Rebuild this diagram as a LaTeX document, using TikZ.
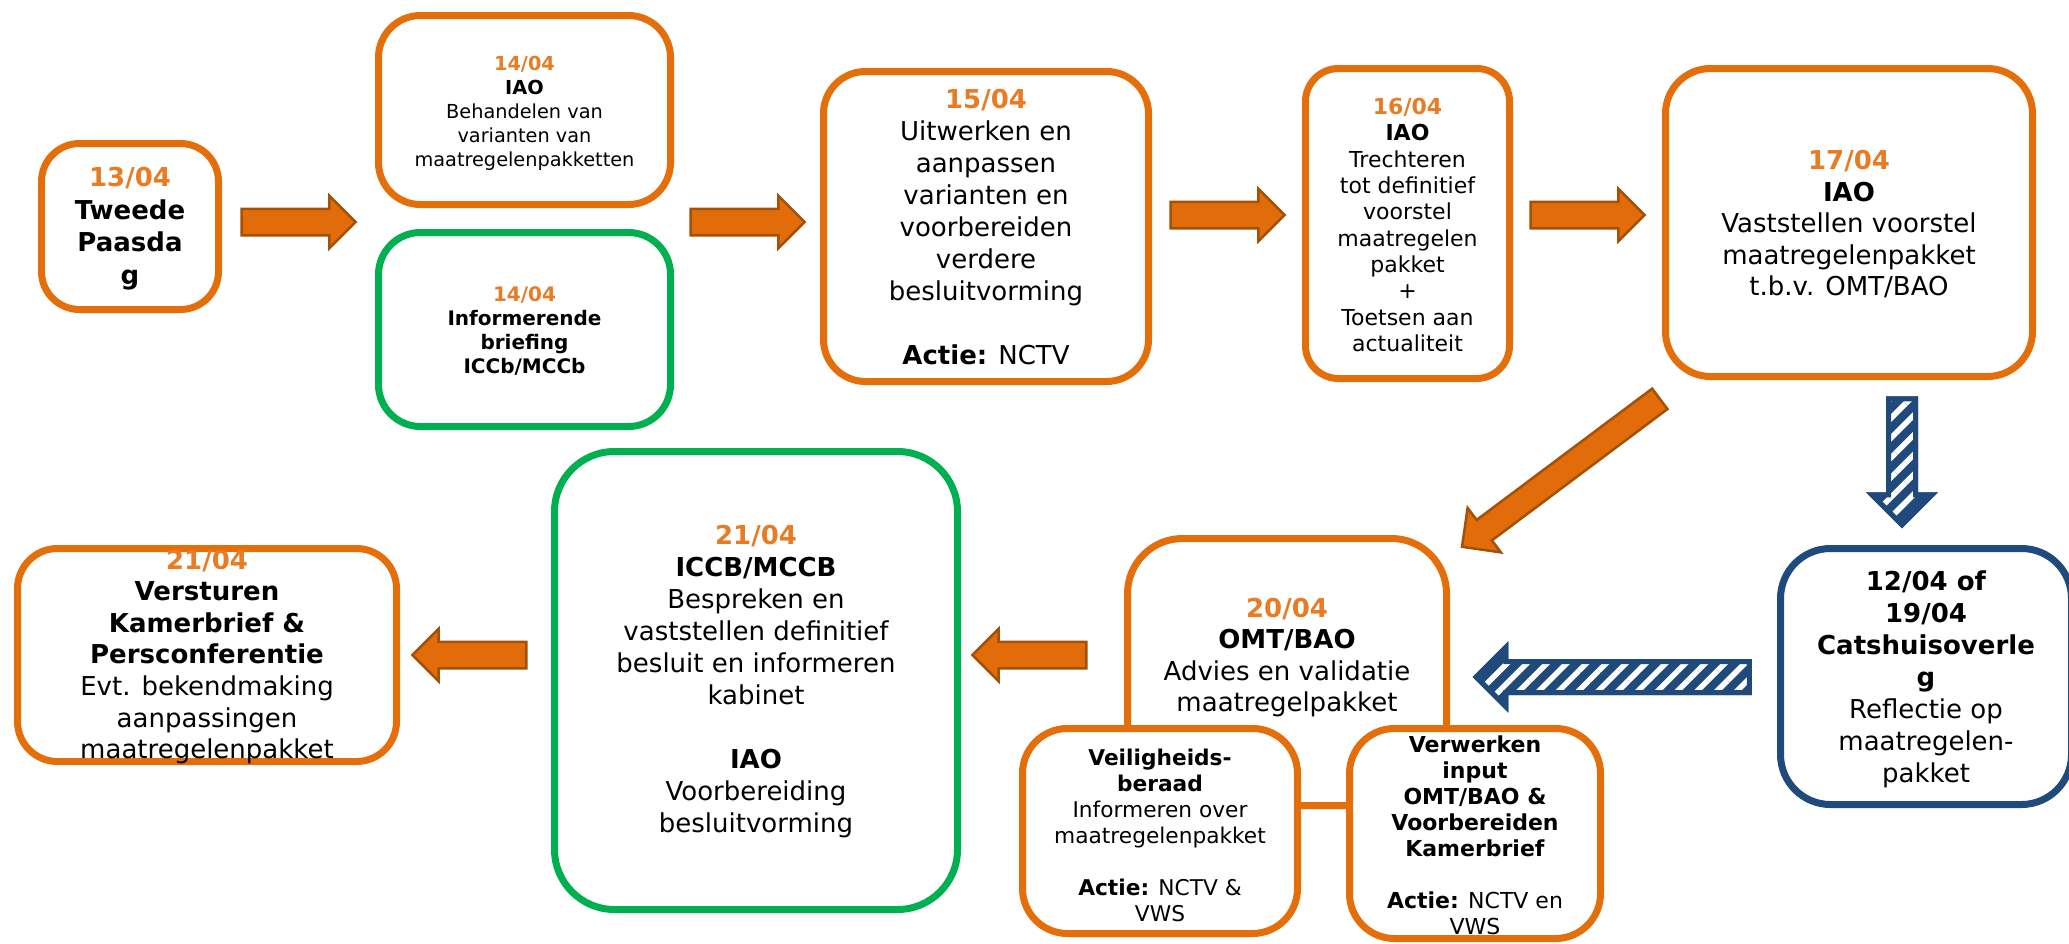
\documentclass[tikz,border=0pt]{standalone}
\usepackage{fontspec}
\setmainfont{DejaVu Sans}
\usetikzlibrary{shapes.arrows,patterns.meta}
\definecolor{boxorange}{RGB}{227,110,10}
\definecolor{dateorange}{RGB}{232,124,36}
\definecolor{arroworange}{RGB}{226,108,10}
\definecolor{arrowdark}{RGB}{163,80,8}
\definecolor{boxgreen}{RGB}{0,176,80}
\definecolor{boxblue}{RGB}{33,74,124}
\newcommand{\dt}[1]{\textcolor{dateorange}{\textbf{#1}}}
\begin{document}
\begin{tikzpicture}[x=1pt,y=-1pt,
  frame/.style={draw=boxorange, line width=7pt, fill=white, inner sep=0pt, outer sep=0pt},
  greenframe/.style={frame, draw=boxgreen},
  blueframe/.style={frame, draw=boxblue},
  txt/.style={align=center, inner sep=0pt, text=black},
  oarrow/.style={single arrow, draw=arrowdark, fill=arroworange, line width=2.5pt, inner xsep=0pt,
     inner ysep=12pt, single arrow head extend=13pt, minimum height=114pt},
  barrow/.style={single arrow, draw=boxblue, fill=boxblue, line width=5pt, inner xsep=0pt,
     postaction={pattern={Lines[angle=45,distance=14pt,line width=5.5pt]}, pattern color=white},
     postaction={draw=boxblue, line width=5pt}}
]
\path[use as bounding box] (0,0) rectangle (2069,943);
\clip (0,0) rectangle (2069,943);

% Row 1
\node[frame, rounded corners=38pt, minimum width=177pt, minimum height=166pt] (A) at (130,226.5) {};
\node[txt, font=\bfseries\fontsize{26}{32.5}\selectfont] (At) at (130,228.5) {\dt{13/04}\\Tweede\\Paasda\\g};

\node[frame, rounded corners=42pt, minimum width=292pt, minimum height=189pt] (B1) at (524.5,110) {};
\node[txt, font=\fontsize{19.3}{24}\selectfont] (B1t) at (524.5,113) {\dt{14/04}\\\textbf{IAO}\\Behandelen van\\varianten van\\maatregelenpakketten};

\node[greenframe, rounded corners=42pt, minimum width=292pt, minimum height=194pt] (B2) at (524.5,329.5) {};
\node[txt, font=\bfseries\fontsize{20}{24}\selectfont] (B2t) at (524.5,330.5) {\dt{14/04}\\Informerende\\briefing\\ICCb/MCCb};

\node[frame, rounded corners=42pt, minimum width=325pt, minimum height=310pt] (C) at (986,226.5) {};
\node[txt, font=\fontsize{26}{32}\selectfont] (Ct) at (986,227.5) {\dt{15/04}\\Uitwerken en\\aanpassen\\varianten en\\voorbereiden\\verdere\\besluitvorming\\~\\\textbf{Actie:} NCTV};

\node[frame, rounded corners=33pt, minimum width=204pt, minimum height=310pt] (D) at (1407.5,223.5) {};
\node[txt, font=\fontsize{22}{26.3}\selectfont] (Dt) at (1407.5,225) {\dt{16/04}\\\textbf{IAO}\\Trechteren\\tot definitief\\voorstel\\maatregelen\\pakket\\+\\Toetsen aan\\actualiteit};

\node[frame, rounded corners=45pt, minimum width=367pt, minimum height=308pt] (E) at (1849,222.5) {};
\node[txt, font=\fontsize{26}{31.5}\selectfont] (Et) at (1849,224.5) {\dt{17/04}\\\textbf{IAO}\\Vaststellen voorstel\\maatregelenpakket\\t.b.v. OMT/BAO};

% Row 2
\node[frame, rounded corners=55pt, minimum width=319pt, minimum height=267pt] (F) at (1287,672) {};
\node[frame, rounded corners=45pt, minimum width=275pt, minimum height=205pt] (F1) at (1160,831) {};
\node[frame, rounded corners=45pt, minimum width=251pt, minimum height=210pt] (F2) at (1475,833.5) {};
\node[txt, font=\fontsize{26}{31.5}\selectfont] (Ft) at (1287,657.5) {\dt{20/04}\\\textbf{OMT/BAO}\\Advies en validatie\\maatregelpakket};
\node[txt, font=\fontsize{21.7}{26}\selectfont] (F1t) at (1160,835) {\textbf{Veiligheids-}\\\textbf{beraad}\\Informeren over\\maatregelenpakket\\~\\\textbf{Actie:} NCTV \&\\VWS};
\node[txt, font=\fontsize{22}{26}\selectfont] (F2t) at (1475,835) {\textbf{Verwerken}\\\textbf{input}\\\textbf{OMT/BAO \&}\\\textbf{Voorbereiden}\\\textbf{Kamerbrief}\\~\\\textbf{Actie:} NCTV en\\VWS};

\node[blueframe, rounded corners=50pt, minimum width=291pt, minimum height=256pt] (G) at (1926,676.5) {};
\node[txt, font=\fontsize{26}{32}\selectfont] (Gt) at (1926,679) {\textbf{12/04 of}\\\textbf{19/04}\\\textbf{Catshuisoverle}\\\textbf{g}\\Reflectie op\\maatregelen-\\pakket};

\node[greenframe, rounded corners=60pt, minimum width=403pt, minimum height=458pt] (H) at (756,680.5) {};
\node[txt, font=\fontsize{26}{32}\selectfont] (Ht) at (756,681.5) {\dt{21/04}\\\textbf{ICCB/MCCB}\\Bespreken en\\vaststellen definitief\\besluit en informeren\\kabinet\\~\\\textbf{IAO}\\Voorbereiding\\besluitvorming};

\node[frame, rounded corners=40pt, minimum width=379pt, minimum height=213pt] (I) at (207,655) {};
\node[txt, font=\fontsize{26}{31.6}\selectfont] (It) at (207,657) {\dt{21/04}\\\textbf{Versturen}\\\textbf{Kamerbrief \&}\\\textbf{Persconferentie}\\Evt. bekendmaking\\aanpassingen\\maatregelenpakket};

% Block arrows
\node[oarrow] (ar1) at (292,222) {};
\node[oarrow] (ar2) at (741,222) {};
\node[oarrow] (ar3) at (1221,215) {};
\node[oarrow] (ar4) at (1581,215) {};
\node[oarrow, rotate=180] (ar5) at (1036,655) {};
\node[oarrow, rotate=180] (ar6) at (476,655) {};
\node[oarrow, minimum height=247pt, inner ysep=11.5pt, single arrow head extend=15pt, rotate=216.8] (ar7) at (1566,469) {};
\node[barrow, minimum height=126pt, inner ysep=11pt, single arrow head extend=16.5pt, rotate=-90] (ar8) at (1902,455) {};
\node[barrow, minimum height=273pt, inner ysep=13pt, single arrow head extend=14pt, rotate=180] (ar9) at (1620.5,677) {};
\end{tikzpicture}
\end{document}
